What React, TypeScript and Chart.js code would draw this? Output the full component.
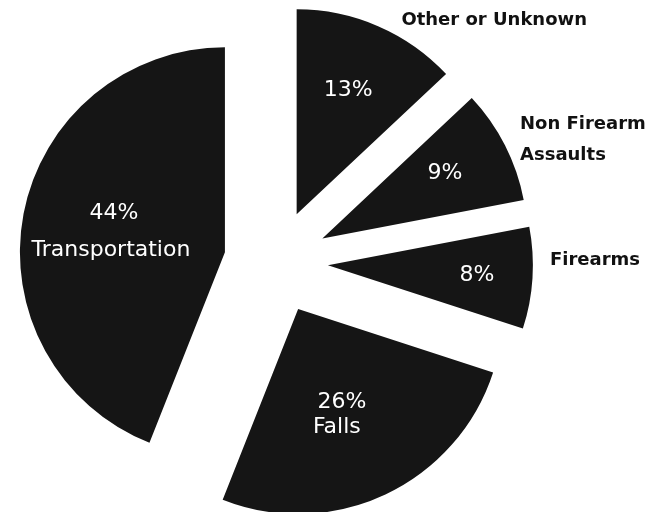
import React, { useEffect, useRef } from "react";
import { Chart, registerables } from "chart.js";

Chart.register(...registerables);

// ---- data ----
const categories = ["Other or Unknown", "Non Firearm Assaults", "Firearms", "Falls", "Transportation"];
const percentages = [13, 9, 8, 26, 44];

// text shown inside / outside each slice
const innerLines: string[][] = [["13%"], ["9%"], ["8%"], ["26%", "Falls"], ["44%", "Transportation"]];
const outerLines: string[][] = [["Other or Unknown"], ["Non Firearm", "Assaults"], ["Firearms"], [], []];

// ---- layout / style (kept apart from data) ----
const RADIUS = 205;
const OFFSET = 208; // Chart.js translates an arc by offset / 4
const SLICE_COLOR = "#151515";
const INNER_FONT = "22px 'DejaVu Sans'";
const OUTER_FONT = "bold 18px 'DejaVu Sans'";

type Place = { angle: number; r: number; align?: CanvasTextAlign };
// polar placement of each text line, relative to the exploded slice apex
const innerPlaces: Place[][] = [
  [{ angle: 22.5, r: 0.656 }],
  [{ angle: 62, r: 0.678 }],
  [{ angle: 93.7, r: 0.729 }],
  [{ angle: 154.8, r: 0.501 }, { angle: 161.8, r: 0.605 }],
  [{ angle: 289.5, r: 0.574 }, { angle: 270.9, r: 0.556 }],
];
const outerPlaces: Place[][] = [
  [{ angle: 45.5, r: 1.351 }],
  [{ angle: 60.1, r: 1.112, align: "left" }, { angle: 67.1, r: 1.047, align: "left" }],
  [{ angle: 89, r: 1.303 }],
  [],
  [],
];

// Keep every exploded slice at the same radius and with straight radial edges
// (Chart.js grows small slices and trims their angles when offset is used).
const equalRadiusPlugin = {
  id: "equalRadius",
  afterDatasetsUpdate(chart: any) {
    const meta = chart.getDatasetMeta(0);
    const shift = OFFSET / 4;
    meta.data.forEach((arc: any) => {
      const fix = 1 - Math.sin(Math.min(Math.PI, arc.circumference || 0));
      const ro = shift * fix;
      arc.outerRadius = RADIUS - ro;
      const d = ro / (2 * Math.PI * RADIUS);
      arc.startAngle -= d;
      arc.endAngle += d;
    });
  },
};

const labelPlugin = {
  id: "sliceLabels",
  afterDatasetsDraw(chart: any) {
    const ctx: CanvasRenderingContext2D = chart.ctx;
    const meta = chart.getDatasetMeta(0);
    const shift = OFFSET / 4;
    meta.data.forEach((arc: any, i: number) => {
      const mid = (arc.startAngle + arc.endAngle) / 2;
      const ax = arc.x + Math.cos(mid) * shift;
      const ay = arc.y + Math.sin(mid) * shift;
      const draw = (lines: string[], places: Place[], color: string, font: string) => {
        lines.forEach((t, j) => {
          const p = places[j];
          if (!p) return;
          const a = ((p.angle - 90) * Math.PI) / 180;
          const x = ax + Math.cos(a) * RADIUS * p.r;
          const y = ay + Math.sin(a) * RADIUS * p.r;
          ctx.save();
          ctx.fillStyle = color;
          ctx.font = font;
          ctx.textAlign = p.align || "center";
          ctx.textBaseline = "middle";
          ctx.fillText(t, x, y);
          ctx.restore();
        });
      };
      draw(innerLines[i], innerPlaces[i], "#ffffff", INNER_FONT);
      draw(outerLines[i], outerPlaces[i], "#111111", OUTER_FONT);
    });
  },
};

export default function App() {
  const ref = useRef<HTMLCanvasElement | null>(null);
  useEffect(() => {
    if (!ref.current) return;
    const chart = new Chart(ref.current, {
      type: "pie",
      data: {
        labels: categories,
        datasets: [
          {
            data: percentages,
            backgroundColor: SLICE_COLOR,
            borderWidth: 0,
            offset: OFFSET,
            hoverOffset: 0,
          },
        ],
      },
      options: {
        responsive: false,
        animation: false,
        radius: RADIUS,
        layout: { padding: { left: 0, right: 105, top: 12, bottom: 0 } },
        plugins: {
          legend: { display: false },
          tooltip: { enabled: false },
        },
      } as any,
      plugins: [equalRadiusPlugin, labelPlugin],
    });
    return () => chart.destroy();
  }, []);
  return (
    <div style={{ position: "fixed", left: 0, top: 0, width: 657, height: 512, background: "#fff" }}>
      <canvas ref={ref} width={657} height={512} style={{ width: 657, height: 512 }} />
    </div>
  );
}
